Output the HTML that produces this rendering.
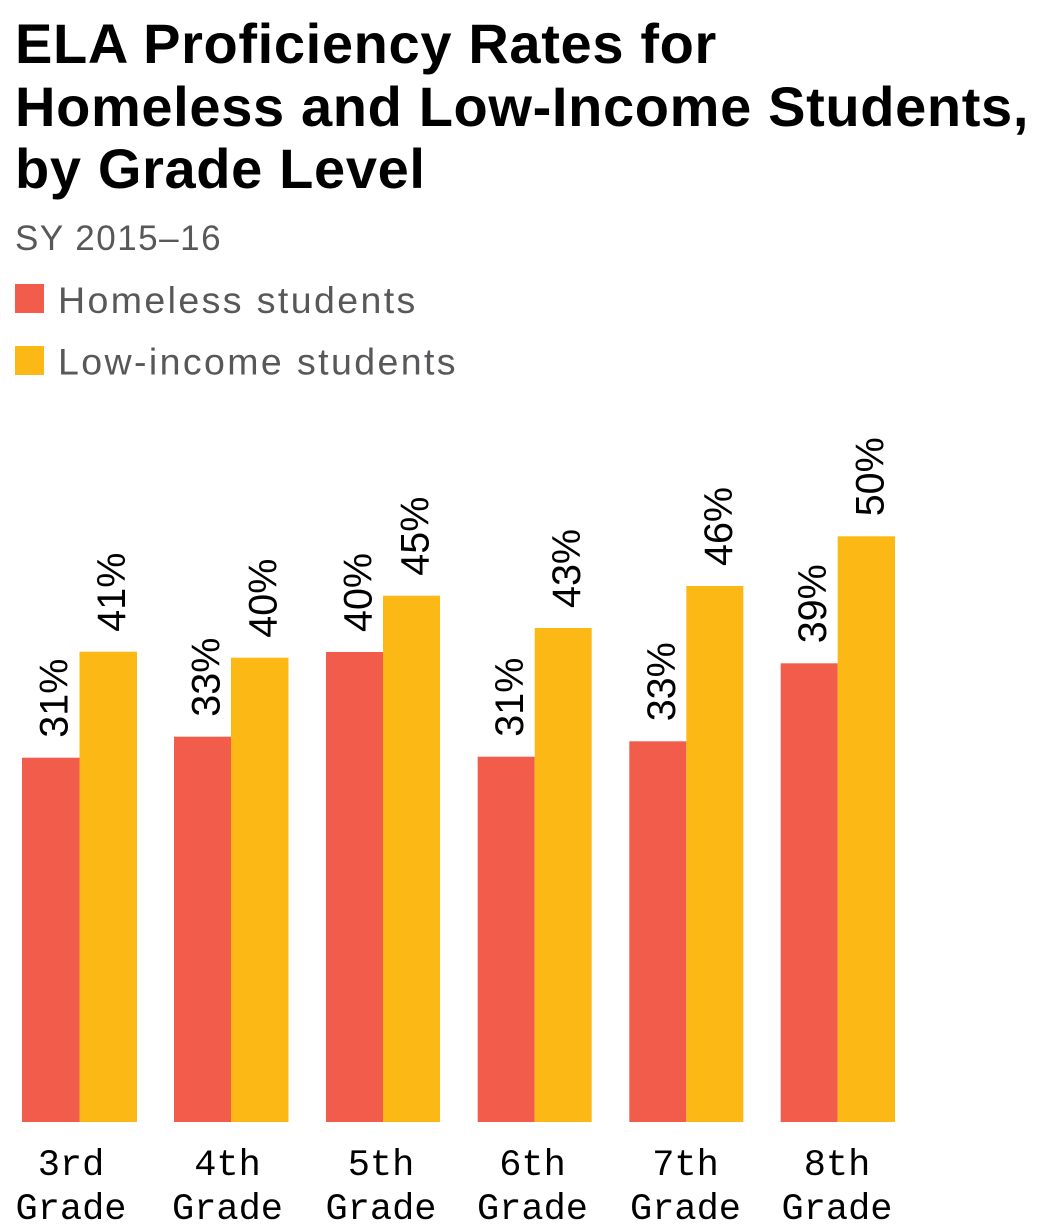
<!DOCTYPE html>
<html>
<head>
<meta charset="utf-8">
<style>
  html, body { margin: 0; padding: 0; background: #ffffff; }
  body { width: 1050px; height: 1230px; overflow: hidden; }
  svg { display: block; }
  .title { font-family: "Liberation Sans", sans-serif; font-weight: bold; font-size: 56px; fill: #000; letter-spacing: 0.65px; }
  .sub { font-family: "Liberation Sans", sans-serif; font-size: 35px; fill: #58585a; letter-spacing: 1.5px; }
  .leg { font-family: "Liberation Sans", sans-serif; font-size: 37.5px; fill: #58585a; letter-spacing: 2.4px; }
  .val { font-family: "Liberation Sans", sans-serif; font-size: 39.5px; fill: #000; }
  .ax { font-family: "Liberation Mono", monospace; font-size: 37px; fill: #000; text-anchor: middle; }
</style>
</head>
<body>
<svg width="1050" height="1230" viewBox="0 0 1050 1230" xmlns="http://www.w3.org/2000/svg">
  <rect x="0" y="0" width="1050" height="1230" fill="#ffffff"/>
  <!-- Title -->
  <text class="title" x="15" y="63">ELA Proficiency Rates for</text>
  <text class="title" x="15" y="126">Homeless and Low-Income Students,</text>
  <text class="title" x="15" y="188">by Grade Level</text>
  <!-- Subtitle -->
  <text class="sub" x="15" y="250">SY 2015–16</text>
  <!-- Legend -->
  <rect x="15" y="284" width="29" height="29" fill="#f15c4b"/>
  <text class="leg" x="58" y="313">Homeless students</text>
  <rect x="15" y="346" width="29" height="29" fill="#fcb814"/>
  <text class="leg" x="58" y="374.5">Low-income students</text>

  <!-- Bars: homeless -->
  <rect x="22" y="757.7" width="57.5" height="364.3" fill="#f15c4b"/>
  <rect x="174" y="736.7" width="57" height="385.3" fill="#f15c4b"/>
  <rect x="326" y="652" width="57" height="470" fill="#f15c4b"/>
  <rect x="477.7" y="756.7" width="57" height="365.3" fill="#f15c4b"/>
  <rect x="629.3" y="741.3" width="57" height="380.7" fill="#f15c4b"/>
  <rect x="780.7" y="663.3" width="57" height="458.7" fill="#f15c4b"/>
  <!-- Bars: low-income -->
  <rect x="79.5" y="651.7" width="57.5" height="470.3" fill="#fcb814"/>
  <rect x="231" y="657.7" width="57.5" height="464.3" fill="#fcb814"/>
  <rect x="383" y="595.7" width="57" height="526.3" fill="#fcb814"/>
  <rect x="534.7" y="628" width="57" height="494" fill="#fcb814"/>
  <rect x="686.3" y="586" width="57" height="536" fill="#fcb814"/>
  <rect x="837.7" y="536.3" width="57.3" height="585.7" fill="#fcb814"/>

  <!-- Value labels: homeless -->
  <text class="val" transform="translate(67.7,737.7) rotate(-90)">31%</text>
  <text class="val" transform="translate(219.5,716.7) rotate(-90)">33%</text>
  <text class="val" transform="translate(371.5,632) rotate(-90)">40%</text>
  <text class="val" transform="translate(523.2,736.7) rotate(-90)">31%</text>
  <text class="val" transform="translate(674.8,721.3) rotate(-90)">33%</text>
  <text class="val" transform="translate(826.2,643.3) rotate(-90)">39%</text>
  <!-- Value labels: low-income -->
  <text class="val" transform="translate(125.2,631.7) rotate(-90)">41%</text>
  <text class="val" transform="translate(276.7,637.7) rotate(-90)">40%</text>
  <text class="val" transform="translate(428.5,575.7) rotate(-90)">45%</text>
  <text class="val" transform="translate(580.2,608) rotate(-90)">43%</text>
  <text class="val" transform="translate(731.8,566) rotate(-90)">46%</text>
  <text class="val" transform="translate(883.3,516.3) rotate(-90)">50%</text>

  <!-- Axis labels -->
  <text class="ax" x="71" y="1175">3rd</text>
  <text class="ax" x="71" y="1219">Grade</text>
  <text class="ax" x="227.5" y="1175">4th</text>
  <text class="ax" x="227.5" y="1219">Grade</text>
  <text class="ax" x="381" y="1175">5th</text>
  <text class="ax" x="381" y="1219">Grade</text>
  <text class="ax" x="532.5" y="1175">6th</text>
  <text class="ax" x="532.5" y="1219">Grade</text>
  <text class="ax" x="685.5" y="1175">7th</text>
  <text class="ax" x="685.5" y="1219">Grade</text>
  <text class="ax" x="837" y="1175">8th</text>
  <text class="ax" x="837" y="1219">Grade</text>
</svg>
</body>
</html>
